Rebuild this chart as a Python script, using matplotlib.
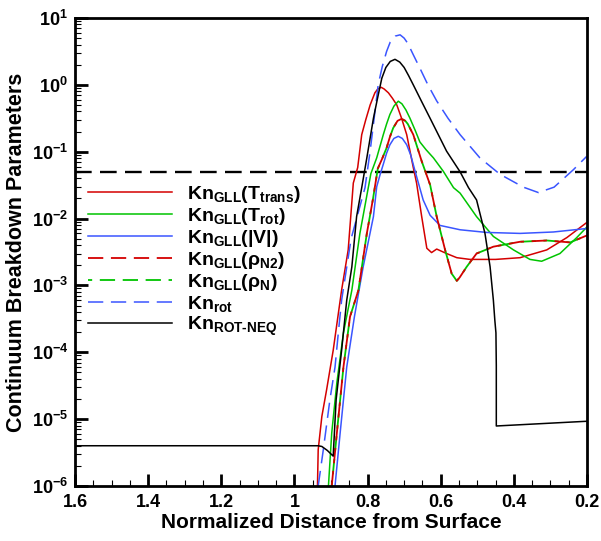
import numpy as np
import matplotlib
matplotlib.use("Agg")
import matplotlib.pyplot as plt
from matplotlib.ticker import LogLocator, FixedLocator, FuncFormatter, NullFormatter

plt.rcParams['font.family'] = ['Liberation Sans', 'DejaVu Sans']
plt.rcParams['font.weight'] = 'bold'
plt.rcParams['mathtext.fontset'] = 'custom'
plt.rcParams['mathtext.bf'] = 'Liberation Sans:bold'
plt.rcParams['mathtext.rm'] = 'Liberation Sans:bold'
plt.rcParams['mathtext.it'] = 'Liberation Sans:bold'
plt.rcParams['lines.scale_dashes'] = False

# ---- data (x: normalized distance from surface, y: parameter value) ----
x_ttrans = [0.937, 0.935, 0.925, 0.912, 0.894, 0.871, 0.853, 0.839, 0.827, 0.816, 0.805,
            0.793, 0.780, 0.772, 0.763, 0.755, 0.743, 0.732, 0.720, 0.707, 0.693, 0.675,
            0.666, 0.652, 0.638, 0.625, 0.611, 0.584, 0.556, 0.520, 0.450, 0.383, 0.310,
            0.255, 0.201]
y_ttrans = [1.0e-6, 3.5e-6, 1.1e-5, 2.75e-5, 1.07e-4, 8.5e-4, 3.4e-3, 0.034, 0.058, 0.18, 0.30,
            0.50, 0.76, 0.87, 0.92, 0.87, 0.76, 0.63, 0.50, 0.316, 0.18, 0.058,
            0.034, 0.0107, 3.6e-3, 3.1e-3, 3.5e-3, 3.0e-3, 2.6e-3, 2.45e-3, 2.45e-3, 2.6e-3, 3.4e-3,
            5.2e-3, 8.7e-3]

x_trot = [0.907, 0.898, 0.884, 0.866, 0.843, 0.821, 0.791, 0.775, 0.757, 0.748, 0.739,
          0.728, 0.716, 0.706, 0.695, 0.684, 0.670, 0.657, 0.640, 0.620, 0.593, 0.565,
          0.547, 0.502, 0.456, 0.401, 0.356, 0.324, 0.274, 0.228, 0.201]
y_trot = [1.0e-6, 6.2e-6, 3.5e-5, 1.95e-4, 8.5e-4, 6.0e-3, 0.047, 0.081, 0.18, 0.26, 0.36,
          0.48, 0.57, 0.52, 0.42, 0.316, 0.21, 0.14, 0.107, 0.081, 0.051, 0.029,
          0.024, 0.0107, 5.4e-3, 3.4e-3, 2.45e-3, 2.3e-3, 3.0e-3, 5.2e-3, 7.4e-3]

x_vel = [0.889, 0.875, 0.857, 0.836, 0.812, 0.784, 0.775, 0.766, 0.757, 0.748, 0.739,
         0.728, 0.716, 0.705, 0.693, 0.682, 0.670, 0.648, 0.629, 0.602, 0.547, 0.474,
         0.383, 0.292, 0.201]
y_vel = [1.0e-6, 6.2e-6, 6.0e-5, 3.4e-4, 1.9e-3, 0.0107, 0.030, 0.045, 0.065, 0.095, 0.127,
         0.158, 0.17, 0.158, 0.127, 0.089, 0.051, 0.019, 0.0112, 7.9e-3, 6.8e-3, 6.2e-3,
         6.0e-3, 6.3e-3, 7.1e-3]

x_rhon2 = [0.898, 0.884, 0.866, 0.848, 0.825, 0.802, 0.785, 0.772, 0.760, 0.748, 0.739,
           0.730, 0.718, 0.707, 0.697, 0.690, 0.675, 0.652, 0.629, 0.611, 0.588, 0.570,
           0.556, 0.548, 0.529, 0.502, 0.456, 0.383, 0.310, 0.246, 0.200]
y_rhon2 = [1.0e-6, 6.2e-6, 6.0e-5, 3.4e-4, 8.5e-4, 6.0e-3, 0.020, 0.056, 0.079, 0.114, 0.166,
           0.226, 0.29, 0.31, 0.29, 0.26, 0.18, 0.072, 0.032, 0.0107, 3.4e-3, 1.5e-3,
           1.17e-3, 1.32e-3, 1.9e-3, 3.0e-3, 3.8e-3, 4.5e-3, 4.7e-3, 4.4e-3, 5.6e-3]

x_rhon = [0.898, 0.884, 0.866, 0.848, 0.825, 0.802, 0.785, 0.772, 0.760, 0.748, 0.739,
          0.730, 0.718, 0.707, 0.697, 0.690, 0.675, 0.652, 0.629, 0.611, 0.588, 0.570,
          0.556, 0.548, 0.529, 0.502, 0.456, 0.383, 0.310, 0.246, 0.200]
y_rhon = [1.0e-6, 6.2e-6, 6.0e-5, 3.4e-4, 8.5e-4, 6.0e-3, 0.020, 0.056, 0.079, 0.114, 0.166,
          0.226, 0.29, 0.31, 0.29, 0.26, 0.18, 0.072, 0.032, 0.0107, 3.4e-3, 1.5e-3,
          1.17e-3, 1.32e-3, 1.9e-3, 3.0e-3, 3.8e-3, 4.5e-3, 4.7e-3, 4.4e-3, 5.6e-3]

x_knrot = [0.935, 0.921, 0.903, 0.889, 0.880, 0.871, 0.845, 0.825, 0.807, 0.793, 0.782,
           0.771, 0.760, 0.748, 0.738, 0.724, 0.711, 0.700, 0.690, 0.675, 0.657, 0.635,
           0.611, 0.580, 0.547, 0.493, 0.438, 0.374, 0.333, 0.290, 0.237, 0.201]
y_knrot = [1.0e-6, 3.5e-6, 1.95e-5, 6.0e-5, 1.95e-4, 6.0e-4, 5.0e-3, 0.0126, 0.029, 0.102, 0.316,
           1.0, 1.86, 3.16, 4.37, 5.37, 5.6, 5.0, 4.17, 2.82, 1.78, 1.0,
           0.575, 0.316, 0.18, 0.081, 0.046, 0.0295, 0.0245, 0.0295, 0.054, 0.085]

x_rotneq = [1.600, 0.935, 0.925, 0.910, 0.894, 0.886, 0.871, 0.857, 0.843, 0.830, 0.816,
            0.802, 0.784, 0.772, 0.761, 0.750, 0.738, 0.725, 0.712, 0.700, 0.688, 0.675,
            0.652, 0.629, 0.584, 0.547, 0.524, 0.502, 0.479, 0.465, 0.456, 0.452,
            0.449, 0.448, 0.448, 0.200]
y_rotneq = [4.0e-6, 4.0e-6, 3.9e-6, 3.4e-6, 2.8e-6, 1.95e-5, 1.07e-4, 6.0e-4, 1.9e-3, 0.0107, 0.029,
            0.081, 0.316, 0.66, 1.26, 1.82, 2.24, 2.41, 2.19, 1.82, 1.38, 1.0,
            0.56, 0.316, 0.102, 0.050, 0.029, 0.019, 6.0e-3, 1.9e-3, 6.0e-4, 3.0e-4,
            1.95e-4, 6.3e-5, 7.9e-6, 9.3e-6]

threshold = 0.05

x_ticks = [1.6, 1.4, 1.2, 1.0, 0.8, 0.6, 0.4, 0.2]

labels = [r'$\mathbf{Kn_{GLL}(T_{trans})}$',
          r'$\mathbf{Kn_{GLL}(T_{rot})}$',
          r'$\mathbf{Kn_{GLL}(|V|)}$',
          r'$\mathbf{Kn_{GLL}(\rho_{N2})}$',
          r'$\mathbf{Kn_{GLL}(\rho_{N})}$',
          r'$\mathbf{Kn_{rot}}$',
          r'$\mathbf{Kn_{ROT\text{-}NEQ}}$']

RED = '#d40000'
GREEN = '#00c400'
BLUE = '#3a55ff'

fig = plt.figure(figsize=(6.01, 5.41), dpi=100)
ax = fig.add_axes([75/601, 55/541, 512/601, 468/541])

lw = 1.1
ax.axhline(threshold, color='black', lw=1.7, linestyle=(0, (12, 6)))
h1, = ax.plot(x_ttrans, y_ttrans, color=RED, lw=lw)
h2, = ax.plot(x_trot, y_trot, color=GREEN, lw=lw)
h3, = ax.plot(x_vel, y_vel, color=BLUE, lw=lw)
h5, = ax.plot(x_rhon, y_rhon, color=GREEN, lw=1.3, linestyle=(8, (11, 5.5)))
h4, = ax.plot(x_rhon2, y_rhon2, color=RED, lw=1.3, linestyle=(0, (11, 5.5)))
h6, = ax.plot(x_knrot, y_knrot, color=BLUE, lw=1.1, linestyle=(0, (11, 5.5)))
h7, = ax.plot(x_rotneq, y_rotneq, color='black', lw=lw)

ax.set_yscale('log')
ax.set_xlim(1.6, 0.2)
ax.set_ylim(1e-6, 10)

ax.xaxis.set_major_locator(FixedLocator(x_ticks))
ax.xaxis.set_minor_locator(FixedLocator(np.arange(0.2, 1.61, 0.05)))
ax.xaxis.set_major_formatter(FuncFormatter(lambda v, p: ('%g' % round(v, 2))))
ax.yaxis.set_major_locator(LogLocator(base=10, numticks=20))
ax.yaxis.set_minor_locator(LogLocator(base=10, subs=np.arange(2, 10), numticks=20))
ax.yaxis.set_minor_formatter(NullFormatter())
ax.yaxis.set_major_formatter(FuncFormatter(lambda v, p: r'$\mathbf{10^{%d}}$' % int(round(np.log10(v)))))

ax.tick_params(which='major', direction='in', length=9, width=2, top=False, right=False)
ax.tick_params(which='minor', direction='in', length=4.5, width=0.8, top=False, right=False)
ax.tick_params(axis='x', which='major', labelsize=13, pad=6)
ax.tick_params(axis='y', which='major', labelsize=13, pad=5)
for s in ax.spines.values():
    s.set_linewidth(2)

ax.set_xlabel('Normalized Distance from Surface', fontsize=15, fontweight='bold', labelpad=1)
ax.set_ylabel('Continuum Breakdown Parameters', fontsize=15.5, fontweight='bold', labelpad=3)

leg = ax.legend([h1, h2, h3, h4, h5, h6, h7], labels, loc='upper left',
                bbox_to_anchor=(88/601, (541 - 184)/541), bbox_transform=fig.transFigure,
                frameon=False, fontsize=14, handlelength=4.3, handletextpad=0.8,
                labelspacing=0.05, borderpad=0, borderaxespad=0)

fig.savefig('out.png', dpi=100)
